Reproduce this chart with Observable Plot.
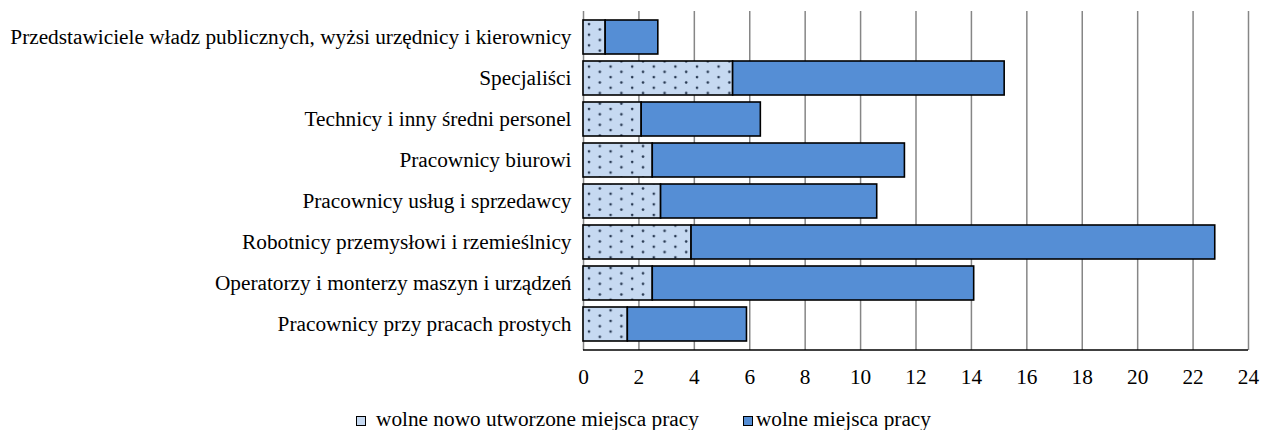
<!DOCTYPE html>
<html>
<head>
<meta charset="utf-8">
<script src="https://cdn.jsdelivr.net/npm/d3@7"></script>
<script src="https://cdn.jsdelivr.net/npm/@observablehq/plot@0.6"></script>
</head>
<body style="margin:0;background:#fff">
<div id="chart"></div>
<script>
const categories = [
  "Przedstawiciele władz publicznych, wyżsi urzędnicy i kierownicy",
  "Specjaliści",
  "Technicy i inny średni personel",
  "Pracownicy biurowi",
  "Pracownicy usług i sprzedawcy",
  "Robotnicy przemysłowi i rzemieślnicy",
  "Operatorzy i monterzy maszyn i urządzeń",
  "Pracownicy przy pracach prostych"
];
const seriesNames = ["wolne nowo utworzone miejsca pracy", "wolne miejsca pracy"];
// segment values (stacked)
const noweMiejsca = [0.8, 5.4, 2.1, 2.5, 2.8, 3.9, 2.5, 1.6];
const pozostaleMiejsca = [1.9, 9.8, 4.3, 9.1, 7.8, 18.9, 11.6, 4.3];
const xTicks = [0, 2, 4, 6, 8, 10, 12, 14, 16, 18, 20, 22, 24];

const colorLight = "#c6d9f1";
const colorDark = "#558ed5";
const FONT = "'Liberation Serif', 'Times New Roman', serif";
const FS = 21.3;

const rows = categories.map((c, i) => ({
  cat: c,
  a: noweMiejsca[i],
  b: noweMiejsca[i] + pozostaleMiejsca[i]
}));

const chart = Plot.plot({
  width: 1262,
  height: 395,
  marginLeft: 583,
  marginRight: 14,
  marginTop: 11,
  marginBottom: 45,
  style: { fontFamily: FONT, fontSize: FS + "px", color: "#000", background: "#fff" },
  x: { domain: [0, 24], ticks: xTicks, label: null, tickFormat: d => String(d) },
  y: { domain: categories, label: null, padding: 0.175 },
  marks: [
    Plot.ruleX(xTicks, { stroke: "#868686", strokeWidth: 1.5 }),
    Plot.barX(rows, { y: "cat", x1: 0, x2: "a", fill: "url(#dots)", stroke: "#000", strokeWidth: 1.6 }),
    Plot.barX(rows, { y: "cat", x1: "a", x2: "b", fill: colorDark, stroke: "#000", strokeWidth: 1.6 }),
    Plot.axisX({ tickSize: 0, tickPadding: 18, ticks: xTicks, label: null, fontSize: FS, fontFamily: "Liberation Serif", fill: "#000" }),
    Plot.axisY({ tickSize: 0, tickPadding: 12, label: null, fontSize: FS, fontFamily: "Liberation Serif", fill: "#000" })
  ]
});

chart.querySelectorAll("text").forEach(t => {
  t.setAttribute("font-family", "Liberation Serif");
  t.style.fontFamily = FONT;
  t.style.fontSize = FS + "px";
});

// pattern definition for the dotted series
const ns = "http://www.w3.org/2000/svg";
const defs = document.createElementNS(ns, "defs");
defs.innerHTML = `<pattern id="dots" patternUnits="userSpaceOnUse" width="21.6" height="10.6" x="583" y="0">
  <rect width="21.6" height="10.6" fill="${colorLight}"></rect>
  <circle cx="6" cy="3" r="1.3" fill="#263750"></circle>
  <circle cx="16.8" cy="8.3" r="1.3" fill="#263750"></circle>
</pattern>`;
chart.insertBefore(defs, chart.firstChild);

// bottom axis line
const xs = chart.scale("x");
const axisLine = document.createElementNS(ns, "line");
axisLine.setAttribute("x1", xs.apply(0));
axisLine.setAttribute("x2", xs.apply(24));
axisLine.setAttribute("y1", 350);
axisLine.setAttribute("y2", 350);
axisLine.setAttribute("stroke", "#000");
axisLine.setAttribute("stroke-width", 1.6);
chart.appendChild(axisLine);
chart.style.display = "block";

document.getElementById("chart").appendChild(chart);

// legend
const legend = document.createElement("div");
legend.setAttribute("style", `display:flex;align-items:center;margin-left:356px;margin-top:14px;height:21px;line-height:21px;font-size:${FS}px;color:#000;font-family:${FONT};white-space:nowrap`);
const sw = "width:8px;height:8px;border:1.3px solid #000;display:inline-block;margin-top:2px;";
legend.innerHTML = `
  <span style="display:flex;align-items:center"><span style="${sw}background:${colorLight}"></span><span style="margin-left:10px">${seriesNames[0]}</span></span>
  <span style="display:flex;align-items:center;margin-left:44px"><span style="${sw}background:${colorDark}"></span><span style="margin-left:3px">${seriesNames[1]}</span></span>`;
document.getElementById("chart").appendChild(legend);
</script>
</body>
</html>
